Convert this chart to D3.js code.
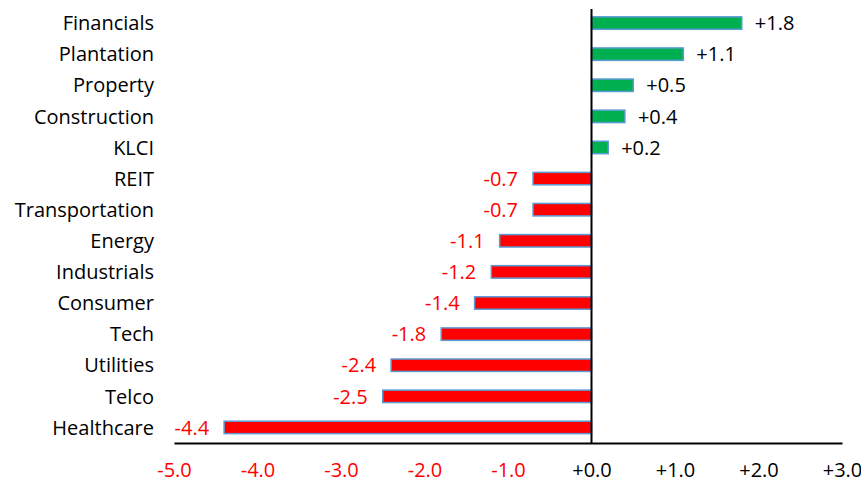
<!DOCTYPE html>
<html>
<head>
<meta charset="utf-8">
<script src="https://cdn.jsdelivr.net/npm/d3@7"></script>
<style>
  html, body { margin: 0; padding: 0; background: #fff; }
  svg { display: block; font-family: "Open Sans", "Noto Sans", sans-serif; }
</style>
</head>
<body>
<svg id="chart" width="861" height="483"></svg>
<script>
// Sector performance, top to bottom
const sectors = ["Financials", "Plantation", "Property", "Construction", "KLCI", "REIT",
  "Transportation", "Energy", "Industrials", "Consumer", "Tech", "Utilities", "Telco", "Healthcare"];
const changes = [1.8, 1.1, 0.5, 0.4, 0.2, -0.7, -0.7, -1.1, -1.2, -1.4, -1.8, -2.4, -2.5, -4.4];
const tickValues = [-5, -4, -3, -2, -1, 0, 1, 2, 3];

const FONT = 20;
const svg = d3.select("#chart");
const fmt = v => (v < 0 ? "-" : "+") + Math.abs(v).toFixed(1);

const x = d3.scaleLinear().domain([-5, 3]).range([174, 842]);
const y = d3.scaleBand().domain(sectors).range([7.5, 443]).paddingInner(0.6).paddingOuter(0.3);

const rows = sectors.map((s, i) => ({ name: s, value: changes[i] }));

// Bars
svg.append("g").selectAll("rect").data(rows).join("rect")
  .attr("x", d => x(Math.min(0, d.value)))
  .attr("y", d => y(d.name))
  .attr("width", d => Math.abs(x(d.value) - x(0)))
  .attr("height", y.bandwidth())
  .attr("fill", d => d.value >= 0 ? "#00B050" : "#FF0000")
  .attr("stroke", "#5B9BD5")
  .attr("stroke-width", 1.5);

// Value labels
svg.append("g").selectAll("text").data(rows).join("text")
  .attr("x", d => d.value >= 0 ? x(d.value) + 13 : x(d.value) - 15)
  .attr("y", d => y(d.name) + y.bandwidth() / 2)
  .attr("dy", "0.36em")
  .attr("text-anchor", d => d.value >= 0 ? "start" : "end")
  .attr("fill", d => d.value >= 0 ? "#000" : "#FF0000")
  .attr("font-size", FONT)
  .text(d => fmt(d.value));

// Category labels
svg.append("g").selectAll("text").data(rows).join("text")
  .attr("x", 154)
  .attr("y", d => y(d.name) + y.bandwidth() / 2)
  .attr("dy", "0.36em")
  .attr("text-anchor", "end")
  .attr("fill", "#000")
  .attr("font-size", FONT)
  .text(d => d.name);

// Zero line
svg.append("line")
  .attr("x1", x(0)).attr("x2", x(0))
  .attr("y1", 9).attr("y2", 443)
  .attr("stroke", "#000").attr("stroke-width", 2);

// Bottom axis
const axis = svg.append("g")
  .attr("transform", "translate(0,443)")
  .call(d3.axisBottom(x).tickValues(tickValues).tickSize(0).tickPadding(20).tickFormat(fmt));
axis.select(".domain").attr("stroke", "#000").attr("stroke-width", 2);
axis.selectAll("text")
  .attr("font-size", FONT)
  .attr("font-family", "\"Open Sans\", \"Noto Sans\", sans-serif")
  .attr("fill", d => d < 0 ? "#FF0000" : "#000");
</script>
</body>
</html>
